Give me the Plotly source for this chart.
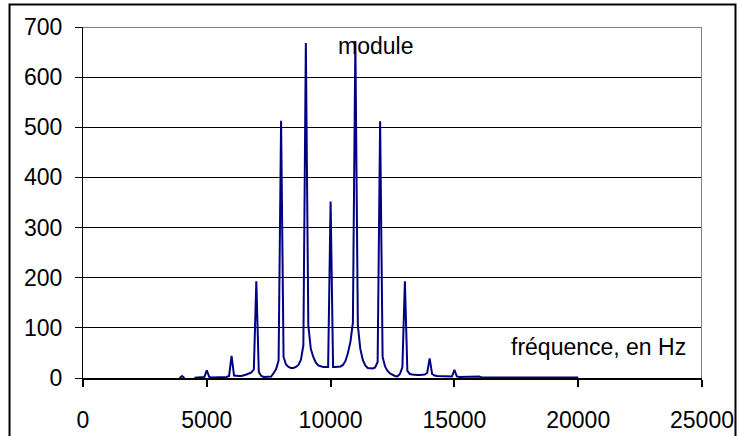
import numpy as np
import plotly.graph_objects as go

# Frequency grid (Hz), 100 Hz step from 3900 to 20000
freq = np.arange(3900, 20001, 100)

# Spectrum magnitude ("module"), one row per 1000 Hz
module = (
    [0]
    + [4, 0, None, None, None, 0.5, 1, 1, 1, 2]            # 4000-4900
    + [15, 2, 1, 1, 1, 1, 1, 1, 2, 4]                      # 5000-5900
    + [44, 5, 4, 4, 4, 5, 7, 9, 11, 17]                    # 6000-6900
    + [193, 12, 4, 2, 2, 2, 3, 10, 18, 35]                 # 7000-7900
    + [513, 42, 27, 22, 20, 20, 22, 26, 36, 65]            # 8000-8900
    + [668, 105, 58, 42, 31, 25, 23, 22, 22, 22]           # 9000-9900
    + [352, 22, 22, 22, 23, 26, 34, 50, 72, 110]           # 10000-10900
    + [672, 105, 58, 36, 25, 20, 19, 19, 21, 32]           # 11000-11900
    + [512, 42, 23, 14, 9, 6, 4, 3, 8, 22]                 # 12000-12900
    + [193, 14, 8, 7, 6, 6, 6, 6, 7, 10]                   # 13000-13900
    + [39, 8, 5, 4, 4, 3, 3, 3, 3, 3]                      # 14000-14900
    + [16, 3, 2, 2, 2, 2, 2, 2, 2, 2]                      # 15000-15900
    + [3, 1, 1, 1, 1, 1, 1, 1, 1, 1]                       # 16000-16900
    + [1, 1, 1, 1, 1, 1, 1, 1, 1, 1]                       # 17000-17900
    + [1, 1, 1, 1, 1, 1, 1, 1, 1, 1]                       # 18000-18900
    + [1, 1, 1, 1, 1, 1, 1, 1, 1, 1]                       # 19000-19900
    + [1]                                                  # 20000
)

x_ticks = [0, 5000, 10000, 15000, 20000, 25000]
y_ticks = [0, 100, 200, 300, 400, 500, 600, 700]

FONT = "Liberation Sans, Arial, sans-serif"

fig = go.Figure()
fig.add_trace(go.Scatter(
    x=freq, y=module, mode="lines",
    line=dict(color="#000080", width=2),
    connectgaps=False, showlegend=False, hoverinfo="skip",
))

fig.update_layout(
    width=737, height=436,
    margin=dict(l=83, r=35, t=27, b=58),
    paper_bgcolor="white", plot_bgcolor="white",
    font=dict(family=FONT, size=23, color="black"),
    showlegend=False,
    xaxis=dict(
        range=[0, 25000], tickvals=x_ticks, ticktext=[str(v) for v in x_ticks],
        showgrid=False, zeroline=False, automargin=False,
        showline=True, linecolor="black", linewidth=2,
        ticks="outside", ticklen=7, tickwidth=2, tickcolor="black",
        ticklabelstandoff=13, layer="below traces",
        tickfont=dict(family=FONT, size=23, color="black"),
    ),
    yaxis=dict(
        range=[0, 700], tickvals=y_ticks, ticktext=[str(v) for v in y_ticks],
        showgrid=True, gridcolor="black", gridwidth=1, zeroline=False,
        automargin=False,
        showline=True, linecolor="black", linewidth=1,
        ticks="outside", ticklen=7, tickwidth=1, tickcolor="black",
        ticklabelstandoff=8, layer="below traces",
        tickfont=dict(family=FONT, size=23, color="black"),
    ),
    shapes=[
        # grey plot-area border (top and right)
        dict(type="line", xref="x", yref="y", x0=0, y0=700, x1=25000, y1=700,
             line=dict(color="#808080", width=2), layer="above"),
        dict(type="line", xref="x", yref="y", x0=25000, y0=0, x1=25000, y1=700,
             line=dict(color="#808080", width=2), layer="above"),
        # outer chart frame
        dict(type="rect", xref="paper", yref="paper",
             x0=-0.1187, y0=-0.172, x1=1.0541, y1=1.0641,
             line=dict(color="black", width=2), fillcolor="rgba(0,0,0,0)",
             layer="above"),
    ],
    annotations=[
        dict(x=10200, y=662, xref="x", yref="y", text="module", showarrow=False,
             xanchor="left", yanchor="middle",
             font=dict(family=FONT, size=23, color="black")),
        dict(x=24420, y=62, xref="x", yref="y", text="fréquence, en Hz",
             showarrow=False, xanchor="right", yanchor="middle",
             font=dict(family=FONT, size=23, color="black")),
    ],
)

fig.write_html(
    "out.html",
    config={"displayModeBar": False},
    post_script="document.body.style.margin='0px';document.body.style.overflow='hidden';",
)
